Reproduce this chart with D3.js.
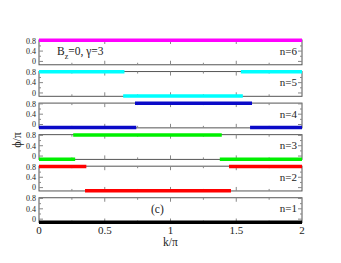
<!DOCTYPE html>
<html>
<head>
<meta charset="utf-8">
<script src="https://cdn.jsdelivr.net/npm/d3@7"></script>
<style>
  body { margin: 0; background: #fff; }
  svg, svg text { font-family: "Times New Roman", "Liberation Serif", "DejaVu Serif", serif; }
</style>
</head>
<body>
<svg id="chart" width="341" height="263"></svg>
<script>
// panel labels, top to bottom
const bands = [6, 5, 4, 3, 2, 1];
const bandColors = ['#ff00ff', '#00ffff', '#0a0ac8', '#00f000', '#ff0000', '#000000'];

// phase segments per panel: [k start, k end, phi/pi]
const segN6 = [[0, 2, 0.82]];
const segN5 = [[0, 0.65, 0.82], [0.64, 1.55, -0.12], [1.535, 2, 0.82]];
const segN4 = [[0, 0.74, -0.12], [0.73, 1.62, 0.82], [1.605, 2, -0.12]];
const segN3 = [[0.26, 1.39, 0.82], [0, 0.275, -0.12], [1.375, 2, -0.12]];
const segN2 = [[0, 0.36, 0.82], [0.35, 1.46, -0.12], [1.445, 2, 0.82]];
const segN1 = [[0, 2, -0.12]];
const segments = [segN6, segN5, segN4, segN3, segN2, segN1];

const xTicks = [0, 0.5, 1, 1.5, 2];
const xTickLabels = ['0', '0.5', '1', '1.5', '2'];
const yTicks = [0, 0.4, 0.8];

const svg = d3.select('#chart');
const x = d3.scaleLinear().domain([0, 2]).range([39, 302]);
const panel = d3.scaleBand().domain(bands).range([40, 222.5]).paddingInner(0.215);

const frameColor = '#555';
const tickColor = '#888';

bands.forEach((n, i) => {
  const top = panel(n);
  const bottom = top + panel.bandwidth();
  const y = d3.scaleLinear().domain([-0.13, 0.83]).range([bottom, top]);
  const g = svg.append('g').attr('class', 'panel');

  // frame
  g.append('rect')
    .attr('x', x(0)).attr('y', top)
    .attr('width', x(2) - x(0)).attr('height', bottom - top)
    .attr('fill', 'none').attr('stroke', frameColor).attr('stroke-width', 1);

  // x ticks, top and bottom, pointing inward
  const xMinor = d3.range(0.25, 2, 0.25);
  xMinor.forEach(v => {
    const major = Math.abs(v * 2 - Math.round(v * 2)) < 1e-6;
    const len = major ? 4 : 2;
    g.append('line').attr('x1', x(v)).attr('x2', x(v)).attr('y1', bottom).attr('y2', bottom - len)
      .attr('stroke', tickColor);
    g.append('line').attr('x1', x(v)).attr('x2', x(v)).attr('y1', top).attr('y2', top + len)
      .attr('stroke', tickColor);
  });

  // y ticks, left and right
  [0, 0.2, 0.4, 0.6, 0.8].forEach(v => {
    const major = yTicks.includes(v);
    const len = major ? 4 : 2;
    g.append('line').attr('x1', x(0)).attr('x2', x(0) + len).attr('y1', y(v)).attr('y2', y(v))
      .attr('stroke', tickColor);
    g.append('line').attr('x1', x(2)).attr('x2', x(2) - len).attr('y1', y(v)).attr('y2', y(v))
      .attr('stroke', tickColor);
  });

  g.selectAll('text.ytick')
    .data(yTicks)
    .join('text')
    .attr('class', 'ytick')
    .attr('x', x(0) - 3)
    .attr('y', d => y(d) + 2.8)
    .attr('text-anchor', 'end')
    .attr('font-size', 8)
    .attr('fill', '#222')
    .text(d => d);

  // data segments
  g.selectAll('line.seg')
    .data(segments[i])
    .join('line')
    .attr('class', 'seg')
    .attr('x1', d => x(d[0]))
    .attr('x2', d => x(d[1]))
    .attr('y1', d => y(d[2]))
    .attr('y2', d => y(d[2]))
    .attr('stroke', bandColors[i])
    .attr('stroke-width', 3.5);

  g.append('text')
    .attr('x', 297)
    .attr('y', top + 14.5)
    .attr('text-anchor', 'end')
    .attr('font-size', 11)
    .attr('fill', '#222')
    .text('n=' + n);
});

// x tick labels and axis label
svg.selectAll('text.xtick')
  .data(xTicks)
  .join('text')
  .attr('class', 'xtick')
  .attr('x', d => x(d))
  .attr('y', 233.5)
  .attr('text-anchor', 'middle')
  .attr('font-size', 11)
  .attr('fill', '#222')
  .text((d, i) => xTickLabels[i]);

svg.append('text')
  .attr('x', x(1))
  .attr('y', 246)
  .attr('text-anchor', 'middle')
  .attr('font-size', 11.5)
  .attr('fill', '#222')
  .text('k/π');

svg.append('text')
  .attr('transform', 'translate(21,140) rotate(-90)')
  .attr('text-anchor', 'middle')
  .attr('font-size', 12)
  .attr('fill', '#222')
  .text('ϕ/π');

// annotations
const note = svg.append('text')
  .attr('x', 57)
  .attr('y', panel(6) + 15)
  .attr('font-size', 11.5)
  .attr('fill', '#222');
note.append('tspan').text('B');
note.append('tspan').attr('dy', 3.5).attr('font-size', 8).text('z');
note.append('tspan').attr('dy', -3.5).text('=0, γ=3');

svg.append('text')
  .attr('x', 151)
  .attr('y', panel(1) + 15)
  .attr('font-size', 11.5)
  .attr('fill', '#222')
  .text('(c)');
</script>
</body>
</html>
